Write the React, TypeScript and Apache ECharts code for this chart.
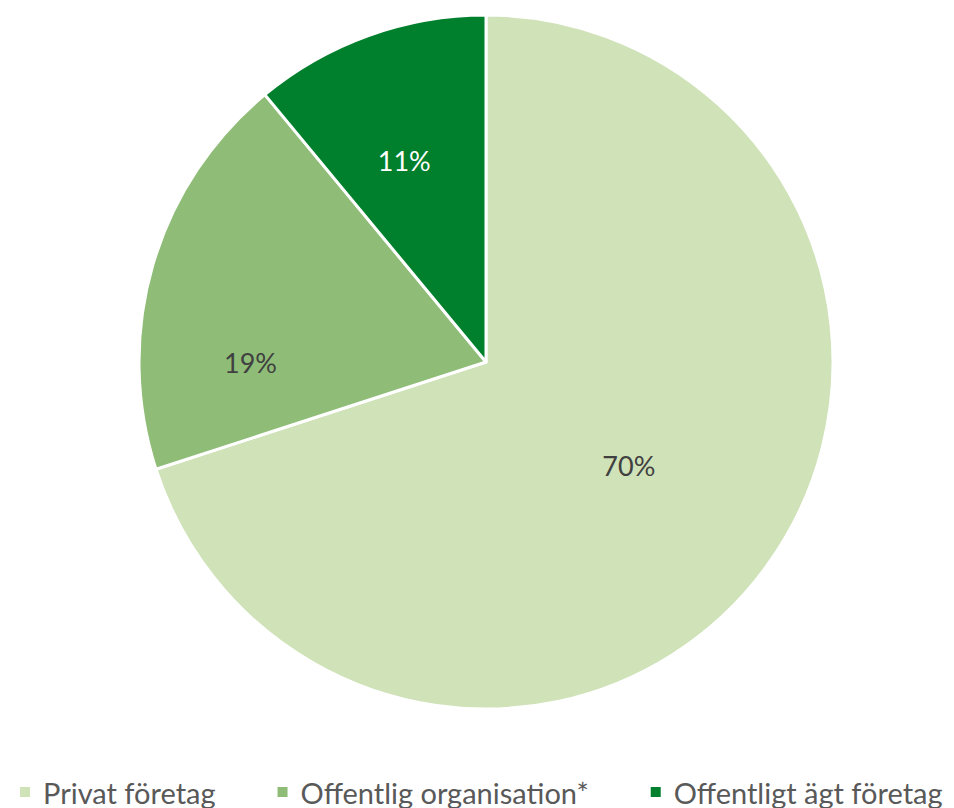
import React, { useEffect, useRef } from "react";
import * as echarts from "echarts";

const categories = ["Privat företag", "Offentlig organisation*", "Offentligt ägt företag"];
const values = [70, 19, 11];
const colors = ["#CFE2B8", "#8FBD78", "#00802C"];
const labelColors = ["#404040", "#404040", "#FFFFFF"];
const labelShift = [
  [0, 0],
  [-66, 50],
  [-22, -35],
];

export default function App() {
  const ref = useRef<HTMLDivElement>(null);
  useEffect(() => {
    document.body.style.margin = "0";
    const chart = echarts.init(ref.current!, null, { renderer: "svg" });
    chart.setOption({
      animation: false,
      backgroundColor: "#FFFFFF",
      textStyle: { fontFamily: "Lato, 'Open Sans', sans-serif" },
      legend: {
        top: 777,
        left: 18,
        padding: 0,
        icon: "rect",
        itemWidth: 12,
        itemHeight: 12,
        itemGap: 60,
        textStyle: { fontSize: 29, lineHeight: 30, color: "#595959", padding: [0, 0, 0, 7] },
        data: categories,
      },
      series: [
        {
          type: "pie",
          center: [486, 362],
          radius: [0, 347],
          startAngle: 90,
          clockwise: true,
          itemStyle: { borderColor: "#FFFFFF", borderWidth: 3 },
          label: {
            show: true,
            position: "inside",
            fontSize: 27,
            formatter: (p: any) => `${p.value}%`,
          },
          labelLine: { show: false },
          labelLayout: (p: any) => ({
            dx: labelShift[p.dataIndex][0],
            dy: labelShift[p.dataIndex][1],
          }),
          data: categories.map((c, i) => ({
            name: c,
            value: values[i],
            itemStyle: { color: colors[i] },
            label: { color: labelColors[i] },
          })),
        },
      ],
    });
    return () => chart.dispose();
  }, []);
  return <div ref={ref} style={{ width: 954, height: 808 }} />;
}
